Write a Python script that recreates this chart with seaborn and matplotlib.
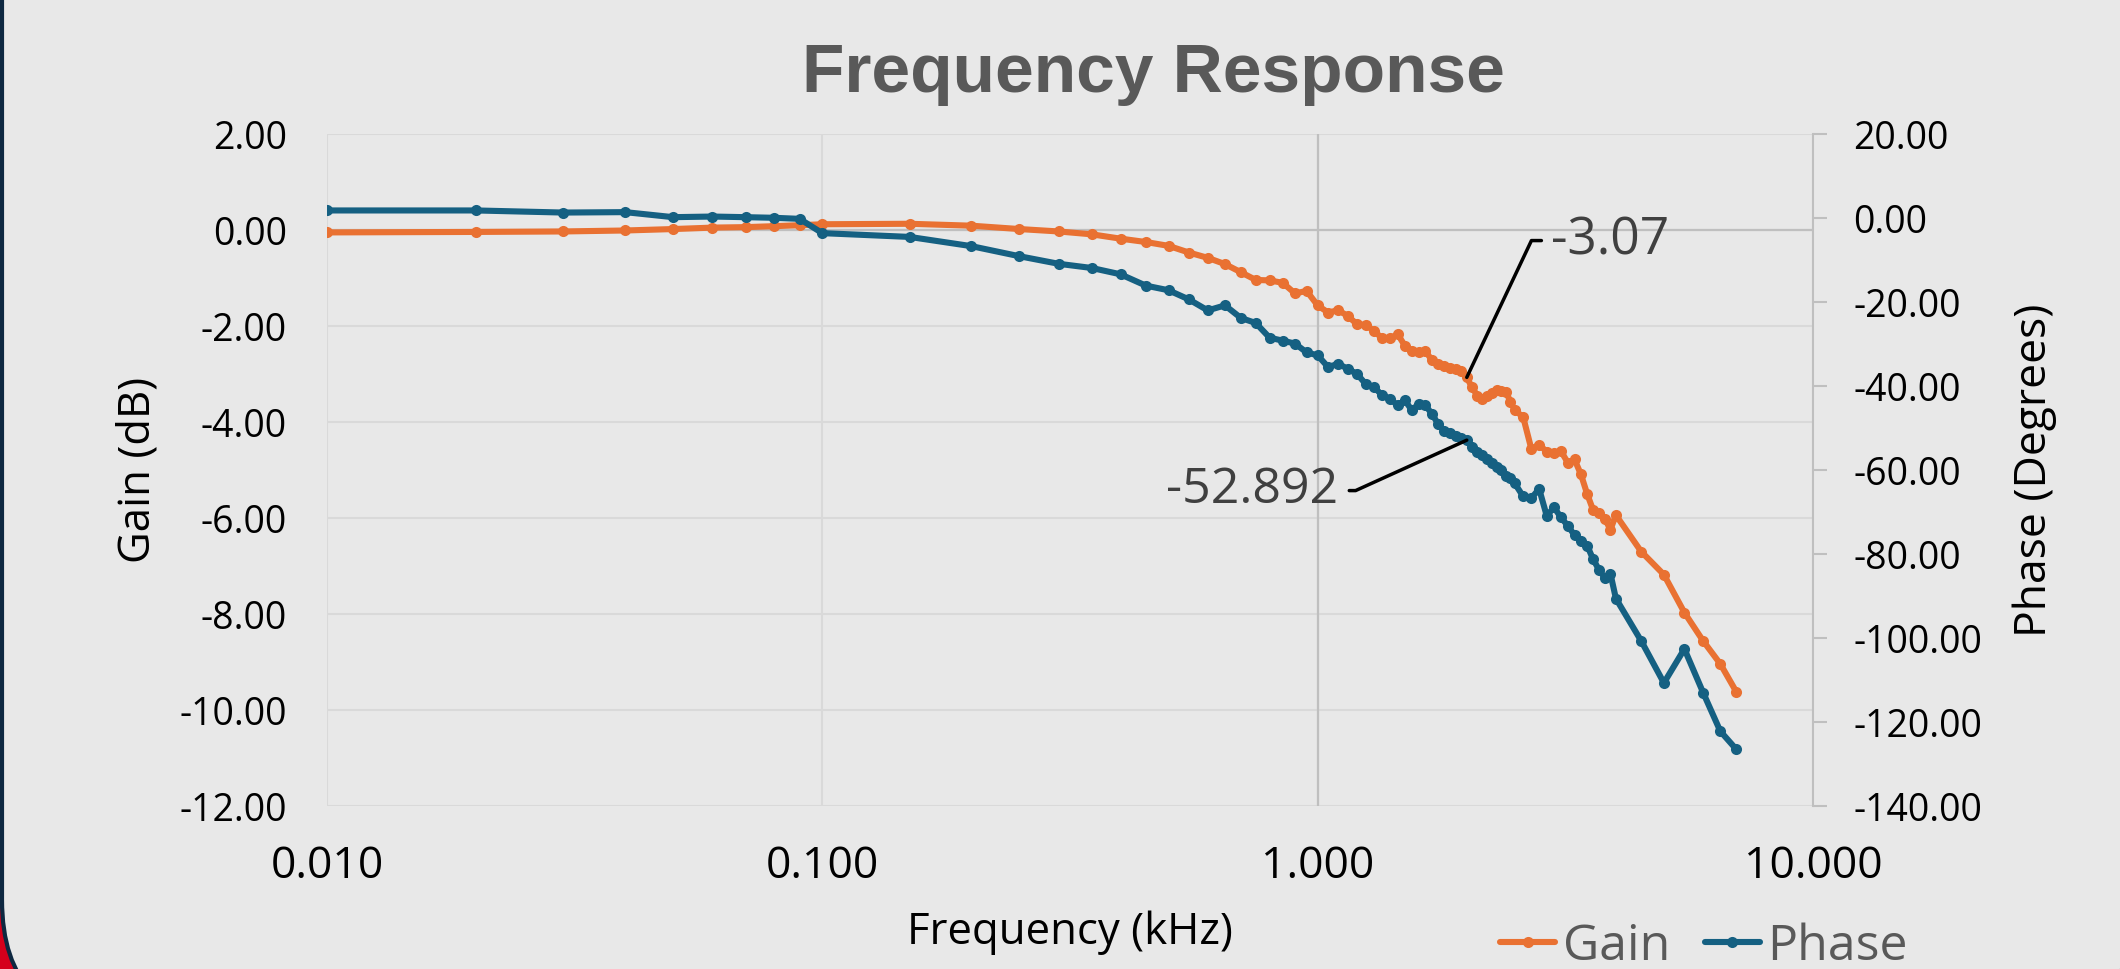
import pandas as pd
import matplotlib
matplotlib.use('Agg')
import matplotlib.pyplot as plt
import matplotlib.ticker as mticker
import seaborn as sns
from matplotlib.patches import FancyBboxPatch
from matplotlib.transforms import IdentityTransform

# values
freq_khz = [0.01, 0.02, 0.03, 0.04, 0.05, 0.06, 0.07, 0.08, 0.09, 0.10,
            0.15, 0.20, 0.25, 0.30, 0.35, 0.40, 0.45, 0.50, 0.55, 0.60,
            0.65, 0.70, 0.75, 0.80, 0.85, 0.90, 0.95, 1.00,
            1.05, 1.10, 1.15, 1.20, 1.25, 1.30, 1.35, 1.40, 1.45, 1.50,
            1.55, 1.60, 1.65, 1.70, 1.75, 1.80, 1.85, 1.90, 1.95, 2.00,
            2.05, 2.10, 2.15, 2.20, 2.25, 2.30, 2.35, 2.40, 2.45, 2.50,
            2.6, 2.7, 2.8, 2.9, 3.0, 3.1, 3.2, 3.3, 3.4, 3.5,
            3.6, 3.7, 3.8, 3.9, 4.0,
            4.5, 5.0, 5.5, 6.0, 6.5, 7.0]

gain_db = [-0.05, -0.04, -0.03, -0.01, 0.02, 0.05, 0.06, 0.08, 0.10, 0.12,
           0.13, 0.09, 0.02, -0.03, -0.09, -0.18, -0.25, -0.33, -0.47, -0.58,
           -0.71, -0.88, -1.04, -1.05, -1.10, -1.32, -1.27, -1.57,
           -1.72, -1.67, -1.79, -1.96, -1.98, -2.10, -2.26, -2.26, -2.17, -2.41,
           -2.52, -2.55, -2.52, -2.71, -2.80, -2.83, -2.87, -2.90, -2.94, -3.07,
           -3.28, -3.45, -3.53, -3.45, -3.39, -3.33, -3.35, -3.37, -3.58, -3.75,
           -3.90, -4.56, -4.47, -4.62, -4.64, -4.61, -4.85, -4.78, -5.09, -5.50,
           -5.84, -5.89, -6.02, -6.24, -5.94,
           -6.70, -7.18, -7.97, -8.56, -9.04, -9.62]

phase_deg = [1.8, 1.8, 1.3, 1.4, 0.2, 0.35, 0.2, 0.05, -0.2, -3.6,
             -4.5, -6.7, -9.1, -10.9, -11.9, -13.4, -16.1, -17.2, -19.4, -22.0,
             -20.8, -23.8, -25.0, -28.5, -29.2, -29.9, -32.0, -32.7,
             -35.5, -34.7, -35.9, -37.1, -39.5, -40.3, -42.2, -43.0, -44.6, -43.4,
             -45.8, -44.2, -44.6, -46.6, -49.0, -50.6, -51.2, -51.8, -52.3, -52.892,
             -54.6, -55.6, -56.5, -57.4, -58.3, -59.2, -59.9, -61.5, -62.0, -63.2,
             -66.3, -66.7, -64.5, -70.9, -68.9, -71.3, -73.3, -75.5, -77.0, -78.0,
             -81.3, -83.8, -85.7, -84.7, -90.6,
             -100.7, -110.7, -102.6, -113.0, -122.2, -126.5]

freq_ticks = [0.01, 0.1, 1, 10]
gain_ticks = [-12, -10, -8, -6, -4, -2, 0, 2]
phase_ticks = [-140, -120, -100, -80, -60, -40, -20, 0, 20]
marked_freq = 2.0

GAIN_COLOR = '#E97132'
PHASE_COLOR = '#156082'
BG = '#E8E8E8'

sns.set_style('whitegrid', {'axes.facecolor': BG, 'grid.color': '#D9D9D9'})
plt.rcParams['font.family'] = ['Open Sans', 'DejaVu Sans']
plt.rcParams['axes.unicode_minus'] = False

df = pd.DataFrame({'freq': freq_khz, 'gain': gain_db, 'phase': phase_deg})

fig = plt.figure(figsize=(21.2, 9.69), dpi=100, facecolor='#D5001C')

# slide frame (rounded card on red background)
frame = FancyBboxPatch((2, -55), 2134, 1200,
                       boxstyle='round,pad=0,rounding_size=124',
                       transform=IdentityTransform(), facecolor=BG,
                       edgecolor='#0E2841', linewidth=3, zorder=-5)
fig.add_artist(frame)

ax = fig.add_axes([0.1542, 0.1682, 0.7010, 0.6935])
ax.set_xscale('log')
line_kw = dict(marker='o', markersize=8, markeredgewidth=0, linewidth=4.4, legend=False)

sns.lineplot(data=df, x='freq', y='gain', ax=ax, color=GAIN_COLOR, label='Gain', **line_kw)
gain_line = ax.get_lines()[-1]

ax2 = ax.twinx()
sns.lineplot(data=df, x='freq', y='phase', ax=ax2, color=PHASE_COLOR, label='Phase', **line_kw)
phase_line = ax2.get_lines()[-1]

# axes
ax.set_xlim(0.01, 10)
ax.set_ylim(-12, 2)
ax2.set_ylim(-140, 20)
ax.xaxis.set_major_locator(mticker.FixedLocator(freq_ticks))
ax.xaxis.set_minor_locator(mticker.NullLocator())
ax.xaxis.set_major_formatter(mticker.StrMethodFormatter('{x:.3f}'))
ax.set_yticks(gain_ticks)
ax.yaxis.set_major_formatter(mticker.StrMethodFormatter('{x:.2f}'))
ax2.set_yticks(phase_ticks)
ax2.yaxis.set_major_formatter(mticker.StrMethodFormatter('{x:.2f}'))

ax.grid(True, color='#D9D9D9', linewidth=1.5)
ax2.grid(False)
ax.axhline(0, color='#BFBFBF', linewidth=1.6, zorder=1)
ax.axvline(1.0, color='#BFBFBF', linewidth=1.6, zorder=1)

for s in ax.spines.values():
    s.set_visible(False)
for name, s in ax2.spines.items():
    s.set_visible(name == 'right')
ax2.spines['right'].set_color('#BFBFBF')
ax2.spines['right'].set_linewidth(1.5)

ax.tick_params(axis='x', length=0, pad=28, labelsize=32, labelcolor='black')
ax.tick_params(axis='y', length=0, pad=29, labelsize=27, labelcolor='black')
ax2.tick_params(axis='y', length=10, width=1.5, color='#BFBFBF', pad=19,
                labelsize=27, labelcolor='black', direction='out')

ax.set_xlabel('Frequency (kHz)', fontsize=31.5, color='black', va='center')
ax.xaxis.set_label_coords(0.5, -0.189)
ax.set_ylabel('Gain (dB)', fontsize=31.5, color='black', va='center')
ax.yaxis.set_label_coords(-0.127, 0.5)
ax2.set_ylabel('Phase (Degrees)', fontsize=32, color='black', va='center', rotation=90)
ax2.yaxis.set_label_coords(1.1494, 0.5)

# data labels at 2 kHz
i = freq_khz.index(marked_freq)
ax.annotate(f'{gain_db[i]:.2f}', xy=(marked_freq, gain_db[i]), xytext=(2.96, -0.22),
            ha='left', va='center', fontsize=37, color='#404040',
            arrowprops=dict(arrowstyle='-', color='black', lw=2.5, relpos=(0, 0.5),
                            connectionstyle='angle,angleA=0,angleB=64.7,rad=0',
                            patchA=None, shrinkA=7, shrinkB=0))
ax2.annotate(f'{phase_deg[i]:.3f}', xy=(marked_freq, phase_deg[i]), xytext=(1.10, -64.9),
             ha='right', va='center', fontsize=36, color='#404040',
             arrowprops=dict(arrowstyle='-', color='black', lw=2.5, relpos=(1, 0.5),
                             connectionstyle='angle,angleA=0,angleB=24.4,rad=0',
                             patchA=None, shrinkA=8, shrinkB=0))

fig.text(0.544, 0.905, 'Frequency Response', ha='center', va='baseline',
         fontsize=50, fontweight='bold', color='#595959', family='Liberation Sans')

fig.legend(handles=[gain_line, phase_line], labels=['Gain', 'Phase'],
           loc='center left', bbox_to_anchor=(1500 / 2120, 22 / 969), ncol=2,
           frameon=False, fontsize=36, handlelength=1.1, handletextpad=0.15,
           columnspacing=0.7, borderpad=0, borderaxespad=0, labelcolor='#595959')

fig.savefig('out.png', dpi=100)
